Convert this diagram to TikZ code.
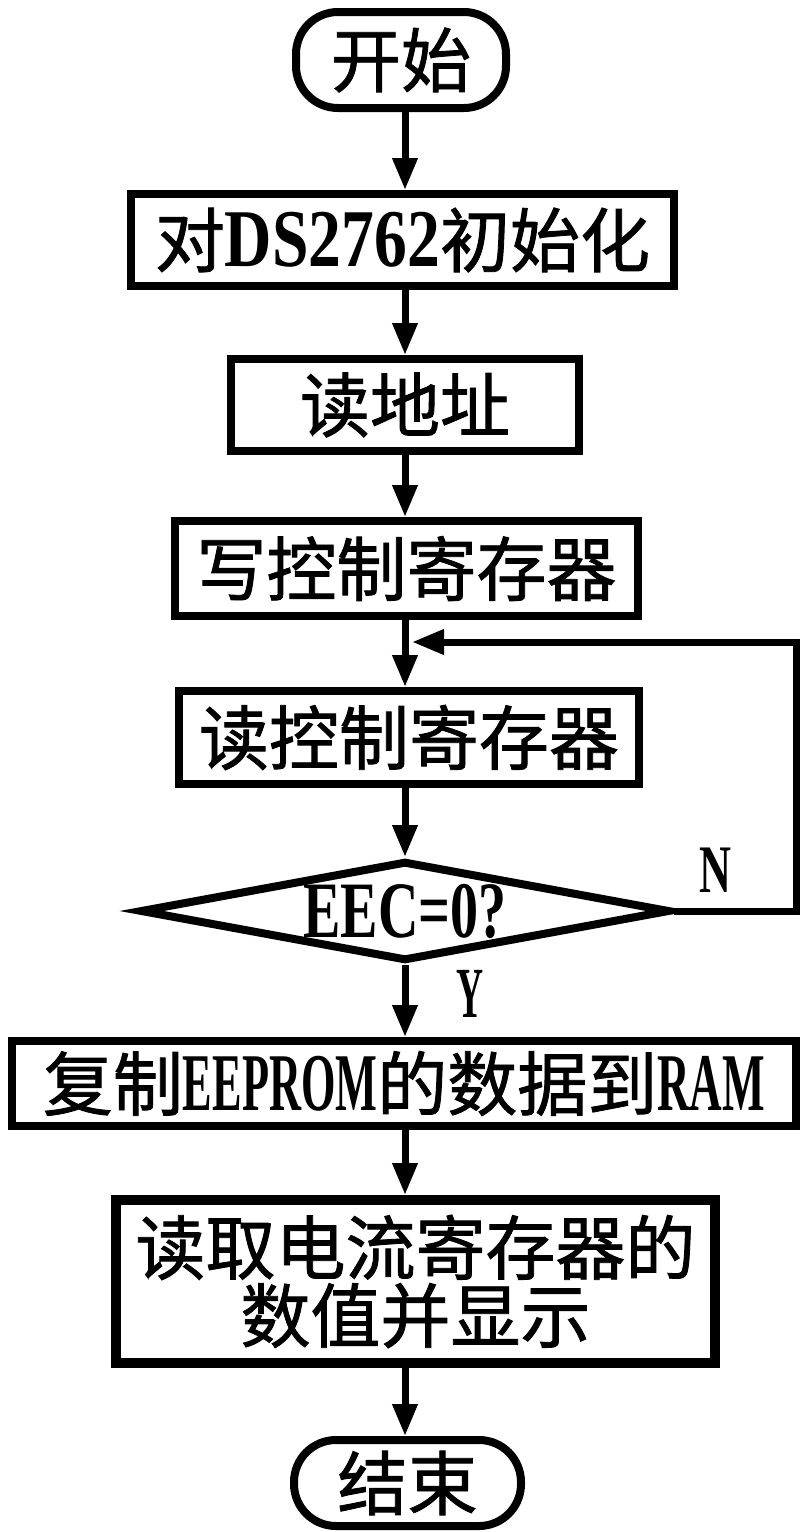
\documentclass[tikz,border=0pt]{standalone}
\usepackage{fontspec}
\usepackage{graphicx}
\setmainfont{Noto Sans CJK SC}[UprightFeatures={FakeBold=1.2}]
\newfontfamily\latfont{Liberation Serif}[UprightFont={* Bold},BoldFont={* Bold}]
\usetikzlibrary{shapes.geometric,arrows.meta}
\newcommand\latx[3][82pt]{{\fontsize{#1}{#1}\selectfont\latfont\scalebox{#2}[1]{#3}}}
\begin{document}
\begin{tikzpicture}[x=1pt,y=-1pt,
  txt/.style={font=\fontsize{70pt}{68pt}\selectfont, align=center, inner sep=0pt},
  box/.style={txt, draw, rectangle, line width=8pt},
  term/.style={txt, draw, rectangle, rounded corners=42pt, line width=8pt},
  dec/.style={txt, draw, diamond, aspect=5.3, line width=8pt},
  conn/.style={line width=7pt, -{Triangle[length=32pt,width=24pt]}},
  lab/.style={inner sep=0pt}]
\useasboundingbox (0,0) rectangle (806,1532);
\coordinate (col) at (405,0);
\node[term, minimum width=210pt, minimum height=96pt] (start) at (401,60) {开始};
\node[box, minimum width=543pt, minimum height=92pt] (b1) at (402.5,240) {对\latx{0.8}{DS2762}初始化};
\node[box, minimum width=348pt, minimum height=92pt] (b2) at (405,405) {读地址};
\node[box, minimum width=463pt, minimum height=95pt] (b3) at (406.5,568.5) {写控制寄存器};
\node[box, minimum width=460pt, minimum height=93pt] (b4) at (409,737.5) {读控制寄存器};
\node[dec, minimum width=530pt, minimum height=100pt] (d) at (405,911) {\latx[80pt]{0.7}{EEC=0?}};
\node[box, minimum width=784pt, minimum height=85pt] (b5) at (404,1083.5) {复制\latx{0.54}{EEPROM}的数据到\latx{0.55}{RAM}};
\node[box, line width=10pt, minimum width=599pt, minimum height=163pt] (b6) at (415.5,1281.5) {读取电流寄存器的\\数值并显示};
\node[term, minimum width=227pt, minimum height=86pt] (end) at (407.5,1483) {结束};
\node[lab] (nl) at (715,870) {\latx[68pt]{0.65}{N}};
\node[lab] (yl) at (470,994) {\latx[72pt]{0.52}{Y}};
\coordinate (lc) at (796,642);
\coordinate (lj) at (412,642);
\draw[conn] (start.south -| col) -- (b1.north -| col);
\draw[conn] (b1.south -| col) -- (b2.north -| col);
\draw[conn] (b2.south -| col) -- (b3.north -| col);
\draw[conn] (b3.south -| col) -- (b4.north -| col);
\draw[conn] (b4.south -| col) -- (d.north);
\draw[conn] (d.south) -- (b5.north -| col);
\draw[conn] (b5.south -| col) -- (b6.north -| col);
\draw[conn] (b6.south -| col) -- (end.north -| col);
\draw[conn] (d.east) -| (lc) -- (lj);
\end{tikzpicture}
\end{document}
